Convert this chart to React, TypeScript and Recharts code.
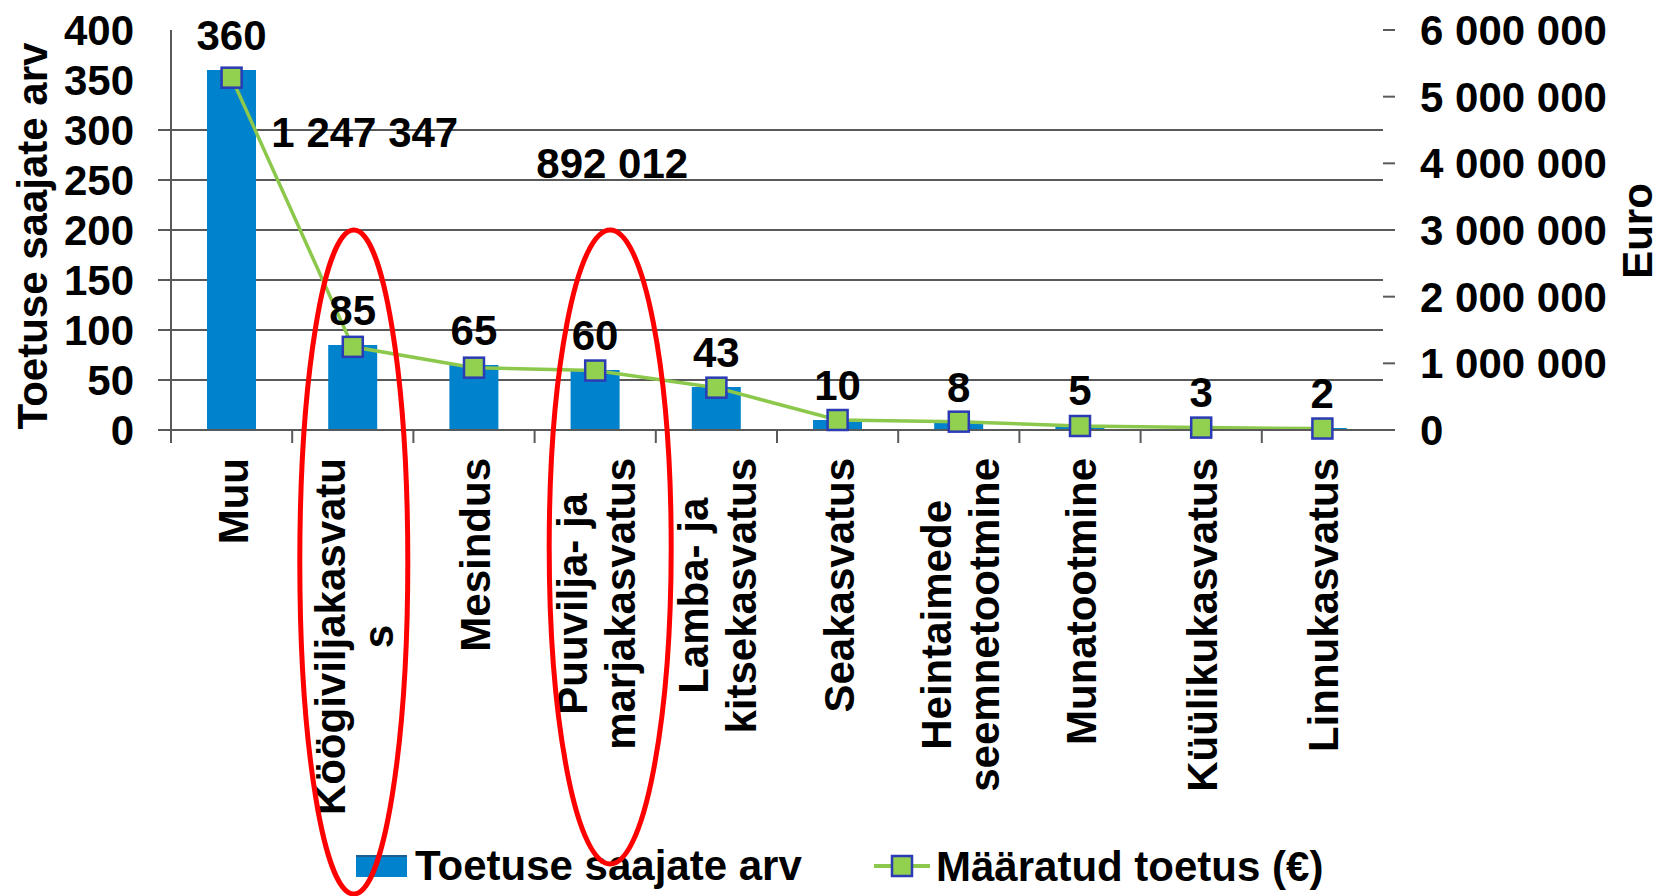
import React from 'react';
import {
  ComposedChart, Bar, Line, XAxis, YAxis, CartesianGrid, Legend, LabelList
} from 'recharts';

const categories = [
  'Muu',
  'Köögiviljakasvatus',
  'Mesindus',
  'Puuvilja- ja marjakasvatus',
  'Lamba- ja kitsekasvatus',
  'Seakasvatus',
  'Heintaimede seemnetootmine',
  'Munatootmine',
  'Küülikukasvatus',
  'Linnukasvatus',
];

// how each name is broken on the axis
const categoryLines = [
  ['Muu'],
  ['Köögiviljakasvatu', 's'],
  ['Mesindus'],
  ['Puuvilja- ja', 'marjakasvatus'],
  ['Lamba- ja', 'kitsekasvatus'],
  ['Seakasvatus'],
  ['Heintaimede', 'seemnetootmine'],
  ['Munatootmine'],
  ['Küülikukasvatus'],
  ['Linnukasvatus'],
];

const recipients = [360, 85, 65, 60, 43, 10, 8, 5, 3, 2];
const grants = [5285000, 1247347, 935000, 892012, 635000, 150000, 125000, 60000, 36000, 22000];
const labelledGrants = ['Köögiviljakasvatus', 'Puuvilja- ja marjakasvatus'];
const circledCategories = ['Köögiviljakasvatus', 'Puuvilja- ja marjakasvatus'];

const leftTicks = [0, 50, 100, 150, 200, 250, 300, 350, 400];
const gridValues = [50, 100, 150, 200, 250, 300];
const rightTicks = [0, 1000000, 2000000, 3000000, 4000000, 5000000, 6000000];

const data = categories.map((name, i) => ({
  name,
  recipients: recipients[i],
  grants: grants[i],
}));

const W = 1662;
const H = 896;
const TOP = 30;
const PLOT_BOTTOM = 430;
const LEFT = 171;
const RIGHT = 1383;
const LEGEND_H = 66;
const BAND = (RIGHT - LEFT) / categories.length;
const FONT = '"Liberation Sans", Arial, Helvetica, sans-serif';
const AXIS = '#595959';
const BLUE = '#0082CD';
const GREEN = '#8CC84B';
const MARKER = '#92D050';
const MARKER_EDGE = '#2B3AB5';

const fmt = (n: number) => String(n).replace(/\B(?=(\d{3})+(?!\d))/g, ' ');

let ctx: CanvasRenderingContext2D | null = null;
function textWidth(s: string) {
  if (!ctx) ctx = document.createElement('canvas').getContext('2d');
  if (!ctx) return s.length * 23;
  ctx.font = `bold 42px ${FONT}`;
  return ctx.measureText(s).width;
}

function CategoryTick(props: any) {
  const { x, payload } = props;
  const idx = categories.indexOf(payload.value);
  const lines = categoryLines[idx] ?? [payload.value];
  const longest = Math.max(...lines.map(textWidth));
  const mid = PLOT_BOTTOM + 28 + longest / 2;
  return (
    <g>
      <line x1={x - BAND / 2} x2={x - BAND / 2} y1={PLOT_BOTTOM} y2={PLOT_BOTTOM + 13} stroke={AXIS} strokeWidth={2} />
      <g transform={`translate(${x},${mid}) rotate(-90)`}>
        {lines.map((ln, i) => (
          <text key={i} x={0} y={(i - (lines.length - 1) / 2) * 48 + 16}
            textAnchor="middle" fontSize={42} fontWeight="bold" fill="#000">{ln}</text>
        ))}
      </g>
    </g>
  );
}

function LeftTick(props: any) {
  const { y, payload } = props;
  return (
    <g>
      {payload.value <= 300 && (
        <line x1={LEFT - 13} x2={LEFT} y1={y} y2={y} stroke={AXIS} strokeWidth={2} />
      )}
      <text x={LEFT - 37} y={y + 15} textAnchor="end" fontSize={42} fontWeight="bold" fill="#000">
        {payload.value}
      </text>
    </g>
  );
}

function RightTick(props: any) {
  const { y, payload } = props;
  return (
    <g>
      <line x1={RIGHT} x2={RIGHT + 12} y1={y} y2={y} stroke={AXIS} strokeWidth={2} />
      <text x={RIGHT + 37} y={y + 15} textAnchor="start" fontSize={42} fontWeight="bold" fill="#000">
        {fmt(payload.value)}
      </text>
    </g>
  );
}

function SquareDot(props: any) {
  const { cx, cy, index } = props;
  if (cx == null || cy == null) return <g key={index} />;
  return (
    <rect key={index} x={cx - 10} y={cy - 10} width={20} height={20}
      fill={MARKER} stroke={MARKER_EDGE} strokeWidth={2.5} />
  );
}

function GrantLabel(props: any) {
  const { x, y, index, value } = props;
  const name = categories[index];
  const k = labelledGrants.indexOf(name);
  if (k < 0) return null;
  const shift = [{ dx: 12, dy: -200 }, { dx: 17, dy: -193 }][k];
  return (
    <text x={x + shift.dx} y={y + shift.dy} textAnchor="middle" fontSize={42} fontWeight="bold" fill="#000">
      {fmt(value)}
    </text>
  );
}

function ChartLegend() {
  return (
    <svg width={W} height={LEGEND_H} style={{ display: 'block' }}>
      <rect x={356} y={25} width={51} height={22} fill={BLUE} />
      <rect x={356} y={25} width={51} height={2} fill="#1D5E8C" />
      <text x={415} y={50} fontSize={42} fontWeight="bold" fill="#000" fontFamily={FONT}>
        Toetuse saajate arv
      </text>
      <line x1={874} x2={930} y1={36} y2={36} stroke={GREEN} strokeWidth={4} />
      <rect x={892} y={26} width={20} height={20} fill={MARKER} stroke={MARKER_EDGE} strokeWidth={2.5} />
      <text x={936} y={51} fontSize={42} fontWeight="bold" fill="#000" fontFamily={FONT}>
        Määratud toetus (€)
      </text>
    </svg>
  );
}

export default function App() {
  const rings = circledCategories.map((c, k) => {
    const i = categories.indexOf(c);
    const cx = LEFT + BAND * (i + 0.5);
    return k === 0
      ? { cx: cx + 1, cy: 562, rx: 54, ry: 332 }
      : { cx: cx + 15, cy: 547, rx: 61, ry: 317 };
  });

  return (
    <div style={{ position: 'absolute', left: 0, top: 0, width: W, height: H, fontFamily: FONT, background: '#fff' }}>
      <ComposedChart width={W} height={H} data={data} margin={{ top: TOP, right: 0, bottom: 0, left: 0 }}>
        <CartesianGrid yAxisId="left" vertical={false} horizontalValues={gridValues} stroke={AXIS} strokeWidth={2} />
        <XAxis
          dataKey="name"
          height={H - PLOT_BOTTOM - LEGEND_H}
          interval={0}
          axisLine={{ stroke: AXIS, strokeWidth: 2 }}
          tickLine={false}
          tick={(p: any) => <CategoryTick {...p} />}
        />
        <YAxis
          yAxisId="left"
          width={LEFT}
          domain={[0, 400]}
          ticks={leftTicks}
          interval={0}
          axisLine={{ stroke: AXIS, strokeWidth: 2 }}
          tickLine={false}
          tick={(p: any) => <LeftTick {...p} />}
          label={(p: any) => {
            const vb = p.viewBox;
            return (
              <text transform={`translate(47,${vb.y + vb.height / 2 + 6}) rotate(-90)`} textAnchor="middle"
                fontSize={42} fontWeight="bold" fill="#000">Toetuse saajate arv</text>
            );
          }}
        />
        <YAxis
          yAxisId="right"
          orientation="right"
          width={W - RIGHT}
          domain={[0, 6000000]}
          ticks={rightTicks}
          interval={0}
          axisLine={false}
          tickLine={false}
          tick={(p: any) => <RightTick {...p} />}
          label={(p: any) => {
            const vb = p.viewBox;
            return (
              <text transform={`translate(1652,${vb.y + vb.height / 2 + 1}) rotate(-90)`} textAnchor="middle"
                fontSize={42} fontWeight="bold" fill="#000">Euro</text>
            );
          }}
        />
        <Legend
          verticalAlign="bottom"
          content={() => <ChartLegend />}
          wrapperStyle={{ left: 0, bottom: 0, width: W, height: LEGEND_H }}
        />
        <Bar yAxisId="left" dataKey="recipients" name="Toetuse saajate arv" fill={BLUE} barSize={49} isAnimationActive={false}>
          <LabelList dataKey="recipients" position="top" offset={20} fill="#000" fontSize={42} fontWeight="bold" />
        </Bar>
        <Line
          yAxisId="right"
          type="linear"
          dataKey="grants"
          name="Määratud toetus (€)"
          stroke={GREEN}
          strokeWidth={3.5}
          dot={(p: any) => <SquareDot {...p} />}
          activeDot={false}
          isAnimationActive={false}
        >
          <LabelList dataKey="grants" content={(p: any) => <GrantLabel {...p} />} />
        </Line>
      </ComposedChart>
      <svg width={W} height={H} style={{ position: 'absolute', left: 0, top: 0, pointerEvents: 'none' }}>
        {rings.map((r, k) => (
          <ellipse key={k} cx={r.cx} cy={r.cy} rx={r.rx} ry={r.ry} fill="none" stroke="#FF0000" strokeWidth={5} />
        ))}
      </svg>
    </div>
  );
}
